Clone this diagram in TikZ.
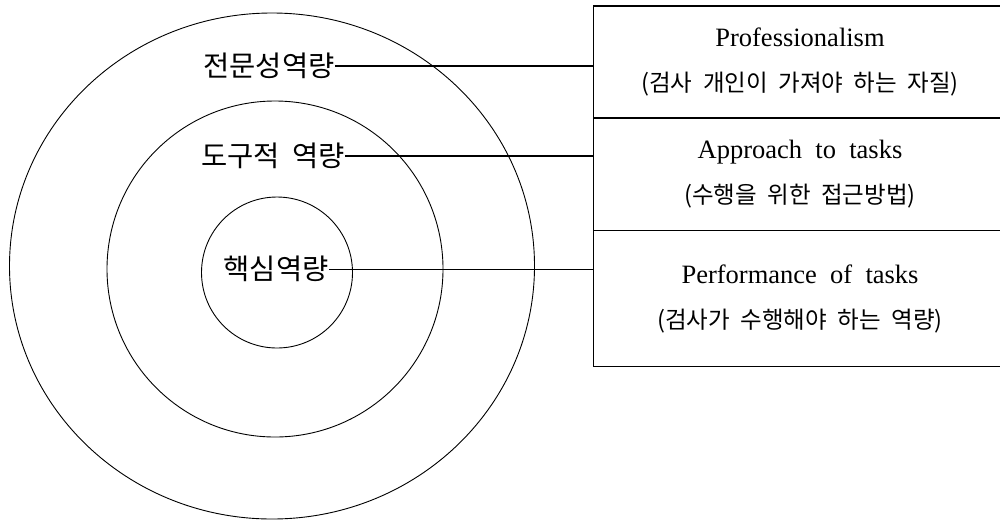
\documentclass[tikz,border=0pt]{standalone}
\usepackage{fontspec}
\setmainfont{Liberation Serif}
\newfontfamily\krfont[WordSpace=2]{Noto Sans CJK KR}
\usetikzlibrary{positioning}
\newcommand{\krsmall}{\krfont\fontsize{23.5}{45}\selectfont}

\begin{document}
\begin{tikzpicture}[x=1pt, y=-1pt, line width=1.1pt, node distance=0pt,
  ring/.style={line width=0.9pt},
  ringlabel/.style={font=\krfont\fontsize{28.5}{30}\selectfont, inner sep=0pt},
  cell/.style={draw, minimum width=413.7pt, outer sep=0pt, align=center,
    font=\fontsize{26.5}{45}\selectfont},
  link/.style={line width=1.2pt}]
  \useasboundingbox (0,0) rectangle (1000,523);
  \clip (0,0) rectangle (1000,523);
  % the three rings
  \draw[ring] (272,266) ellipse [x radius=262.5, y radius=253];
  \draw[ring] (275,269) circle [radius=168];
  \draw[ring] (277,272.5) circle [radius=75.5];
  % ring labels
  \node[ringlabel] (expert) at (269,66) {전문성역량};
  \node[ringlabel] (tool) at (273,156) {도구적 역량};
  \node[ringlabel] (core) at (276,269.3) {핵심역량};
  % table on the right
  \node[cell, minimum height=112pt] (prof) at (800,62)
    {Professionalism\\{\krsmall(검사 개인이 가져야 하는 자질)}};
  \node[cell, minimum height=112.7pt, below=of prof] (appr)
    {Approach\enspace to\enspace tasks\\{\krsmall(수행을 위한 접근방법)}};
  \node[cell, minimum height=136pt, below=of appr] (perf)
    {Performance\enspace of\enspace tasks\\{\krsmall(검사가 수행해야 하는 역량)}};
  % connectors
  \draw[link] (expert.east) -- (expert.east -| prof.west);
  \draw[link] (tool.east) -- (tool.east -| appr.west);
  \draw[link] (core.east) -- (core.east -| perf.west);
\end{tikzpicture}
\end{document}
